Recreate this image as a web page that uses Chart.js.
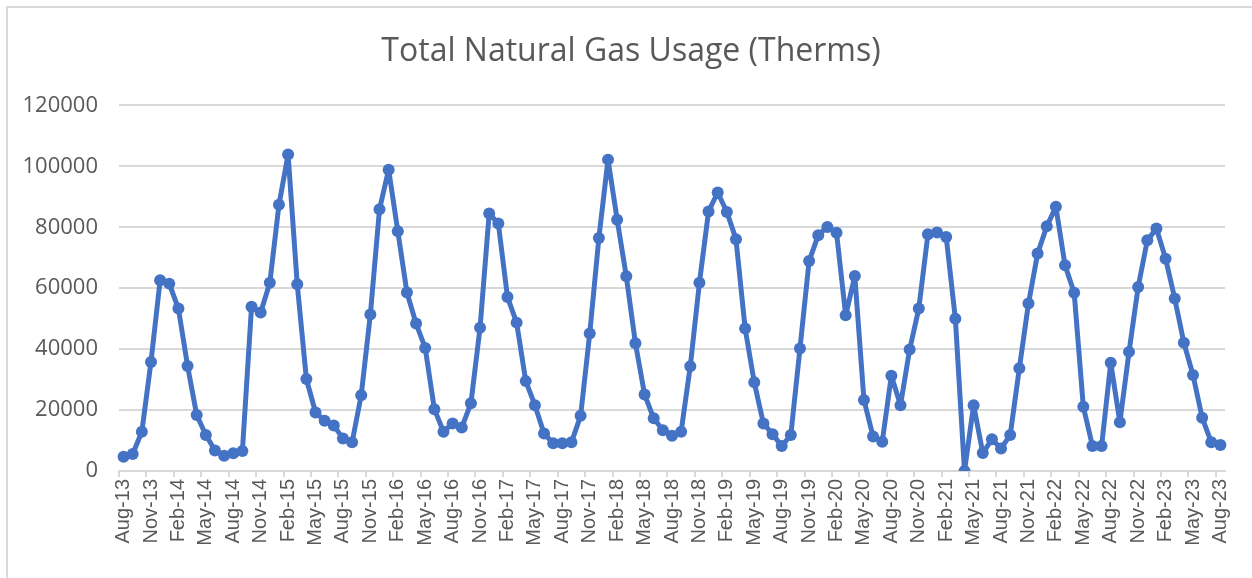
<!DOCTYPE html>
<html>
<head>
<meta charset="utf-8">
<script src="https://cdn.jsdelivr.net/npm/chart.js@4.4.0/dist/chart.umd.min.js"></script>
<style>
    body { margin: 0; background: #fff; }
    #wrap { position: relative; width: 1252px; height: 578px; overflow: hidden; }
    #frame { position: absolute; left: 6px; top: 6px; width: 1300px; height: 700px; border: 2px solid #d9d9d9; }
    canvas { position: absolute; left: 0; top: 0; }
</style>
</head>
<body>
<div id="wrap">
    <div id="frame"></div>
    <canvas id="gasChart" width="1252" height="578"></canvas>
</div>
<script>
// Monthly usage, Aug-13 .. Aug-23
const startYear = 2013;
const startMonth = 7; // August (0-based)
const monthNames = ['Jan', 'Feb', 'Mar', 'Apr', 'May', 'Jun', 'Jul', 'Aug', 'Sep', 'Oct', 'Nov', 'Dec'];

const usage2013 = [4700, 5600, 12900, 35800, 62600];
const usage2014 = [61500, 53300, 34500, 18400, 11800, 6700, 5000, 5800, 6600, 53900, 52000, 61800];
const usage2015 = [87400, 103900, 61300, 30200, 19200, 16500, 14900, 10700, 9400, 24900, 51400, 85900];
const usage2016 = [98900, 78700, 58600, 48400, 40400, 20300, 12900, 15600, 14300, 22200, 47000, 84500];
const usage2017 = [81200, 57100, 48700, 29500, 21600, 12300, 9100, 9100, 9400, 18100, 45100, 76500];
const usage2018 = [102200, 82500, 63900, 41900, 25100, 17300, 13400, 11600, 12900, 34400, 61800, 85200];
const usage2019 = [91400, 85000, 76100, 46800, 29100, 15600, 12100, 8200, 11800, 40200, 68900, 77400];
const usage2020 = [80100, 78200, 51100, 64000, 23300, 11300, 9600, 31300, 21600, 39900, 53300, 77700];
const usage2021 = [78300, 76800, 50000, 0, 21600, 5900, 10400, 7400, 11800, 33700, 55000, 71400];
const usage2022 = [80300, 86700, 67500, 58500, 21100, 8200, 8200, 35500, 16000, 39100, 60400, 75700];
const usage2023 = [79600, 69700, 56600, 42100, 31500, 17500, 9400, 8500];

const yTicks = [0, 20000, 40000, 60000, 80000, 100000, 120000];

const usage = [].concat(usage2013, usage2014, usage2015, usage2016, usage2017, usage2018,
    usage2019, usage2020, usage2021, usage2022, usage2023);

const labels = usage.map((v, i) => {
    const m = (startMonth + i) % 12;
    const y = startYear + Math.floor((startMonth + i) / 12);
    return monthNames[m] + '-' + String(y).slice(2);
});

const textColor = '#595959';
const gridColor = '#d9d9d9';

// nudge the title so it sits centred like the original
const titleShift = {
    id: 'titleShift',
    afterLayout(chart) {
        if (chart.titleBlock) chart.titleBlock.left = 37;
    }
};

new Chart(document.getElementById('gasChart'), {
    type: 'line',
    data: {
        labels: labels,
        datasets: [{
            label: 'Total Natural Gas Usage (Therms)',
            data: usage,
            borderColor: '#4472c4',
            backgroundColor: '#4472c4',
            borderWidth: 5,
            borderJoinStyle: 'round',
            borderCapStyle: 'round',
            pointRadius: 6,
            pointBorderWidth: 0,
            tension: 0,
        }]
    },
    options: {
        responsive: false,
        animation: false,
        layout: {
            padding: { left: 0, right: 27, top: 0, bottom: 0 }
        },
        scales: {
            x: {
                offset: true,
                afterFit: s => { s.height = 107; },
                grid: {
                    offset: true,
                    drawOnChartArea: false,
                    drawTicks: true,
                    tickLength: 6,
                    lineWidth: 2,
                    color: ctx => (ctx.index % 3 === 0 ? gridColor : 'rgba(0,0,0,0)'),
                },
                border: { display: true, color: gridColor, width: 2 },
                ticks: {
                    autoSkip: false,
                    maxRotation: 90,
                    minRotation: 90,
                    padding: 2,
                    color: textColor,
                    font: { family: 'Liberation Sans', size: 20 },
                    callback: (val, i) => (i % 3 === 0 ? labels[i] : ''),
                }
            },
            y: {
                min: 0,
                max: 120000,
                afterFit: s => { s.width = 119; },
                afterBuildTicks: s => { s.ticks = yTicks.map(v => ({ value: v })); },
                grid: {
                    color: gridColor,
                    lineWidth: 2,
                    drawTicks: false,
                },
                border: { display: false },
                ticks: {
                    padding: 21,
                    color: textColor,
                    font: { family: 'Open Sans', size: 22 },
                    callback: v => String(v),
                }
            }
        },
        plugins: {
            legend: { display: false },
            tooltip: { enabled: false },
            title: {
                display: true,
                text: 'Total Natural Gas Usage (Therms)',
                color: textColor,
                font: { family: 'Open Sans', size: 32, weight: 'normal', lineHeight: 1.2 },
                padding: { top: 33, bottom: 34 },
            }
        }
    },
    plugins: [titleShift]
});
</script>
</body>
</html>
